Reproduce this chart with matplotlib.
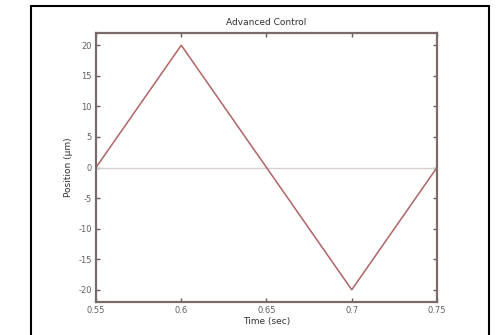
import matplotlib
matplotlib.use("Agg")
import matplotlib.pyplot as plt
from matplotlib.patches import Rectangle

plt.rcParams['axes.unicode_minus'] = False

# data
time = [0.55, 0.6, 0.7, 0.75]
position = [0, 20, -20, 0]
ref_time = [0.55, 0.75]
ref_pos = [0, 0]
xticks = [0.55, 0.6, 0.65, 0.7, 0.75]
yticks = [-20, -15, -10, -5, 0, 5, 10, 15, 20]

fig = plt.figure(figsize=(5.04, 3.35), dpi=100)
ax = fig.add_axes([96 / 504, 1 - 302 / 335, 341 / 504, 269 / 335])

ax.plot(ref_time, ref_pos, color="#d8d0d0", lw=1.0)
ax.plot(time, position, color="#b06464", lw=1.1)

ax.set_xlim(0.55, 0.75)
ax.set_ylim(-22, 22)
ax.set_xticks(xticks)
ax.set_xticklabels(["0.55", "0.6", "0.65", "0.7", "0.75"])
ax.set_yticks(yticks)
ax.tick_params(direction="in", length=3, width=1, labelsize=6, colors="#606060",
               top=True, right=True, pad=3)
for s in ax.spines.values():
    s.set_color("#7a6a6a")
    s.set_linewidth(1.6)

ax.set_title("Advanced Control", fontsize=6.5, color="#303030", pad=6)
ax.set_xlabel("Time (sec)", fontsize=6.5, color="#303030", labelpad=1)
ax.set_ylabel("Position (\u00b5m)", fontsize=6.5, color="#303030", labelpad=4)

# outer frame around the figure
fig.patches.append(Rectangle((31 / 504, -0.05), 458 / 504, 1.05 - 6 / 335,
                             transform=fig.transFigure, fill=False,
                             edgecolor="black", lw=1.5, clip_on=False))

fig.savefig("out.png", dpi=100)
